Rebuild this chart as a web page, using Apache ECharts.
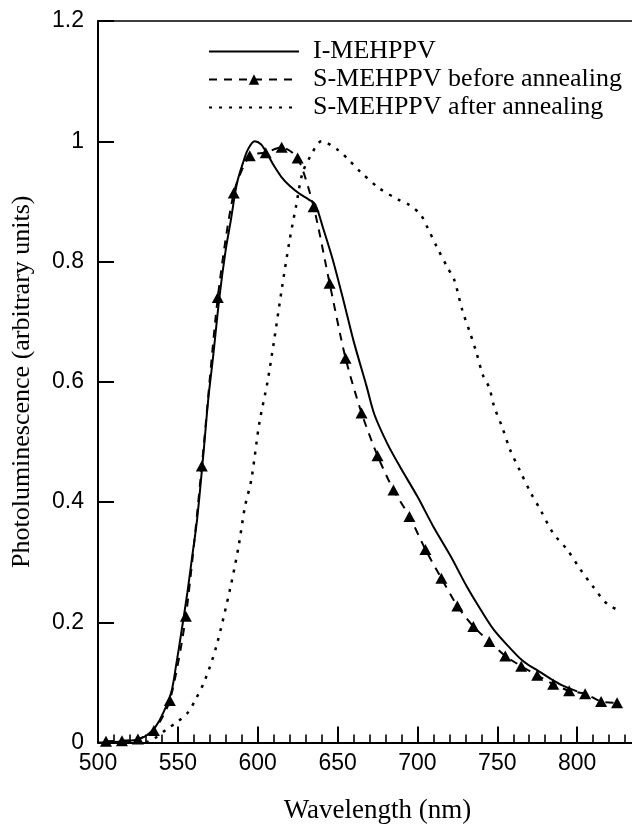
<!DOCTYPE html>
<html>
<head>
<meta charset="utf-8">
<script src="https://cdn.jsdelivr.net/npm/echarts@6/dist/echarts.min.js"></script>
<style>
html,body{margin:0;padding:0;background:#fff;}
#chart{width:632px;height:827px;}
</style>
</head>
<body>
<div id="chart"></div>
<script>
// I-MEHPPV (solid line)
const iWave = [500,510,520,526,531,536,541,546,549,552,556,559,562,566,569,572,576,580,583,587,591,594,598,602,606,610,615,620,626,632,636,641,647,654,660,668,673,681,689,700,710,721,731,741,748,758,765,770,774,781,790,800];
const iVal  = [0,0.001,0.003,0.006,0.013,0.026,0.05,0.085,0.13,0.18,0.25,0.31,0.37,0.48,0.57,0.64,0.74,0.82,0.866,0.93,0.966,0.987,1.0,0.995,0.979,0.96,0.94,0.926,0.913,0.903,0.895,0.855,0.803,0.732,0.668,0.594,0.546,0.498,0.459,0.409,0.359,0.309,0.259,0.215,0.187,0.157,0.138,0.128,0.122,0.11,0.096,0.085];

// S-MEHPPV before annealing (dashed line with triangles)
const bWave = [505,515,525,535,545,555,565,575,585,595,605,615,625,635,645,655,665,675,685,695,705,715,725,735,745,755,765,775,785,795,805,815,825];
const bVal  = [0.002,0.003,0.006,0.02,0.07,0.21,0.46,0.74,0.914,0.976,0.981,0.99,0.972,0.891,0.764,0.639,0.548,0.477,0.42,0.376,0.321,0.273,0.227,0.193,0.168,0.144,0.127,0.112,0.097,0.086,0.081,0.068,0.066];

// S-MEHPPV after annealing (dotted line)
const aWave = [530,535,543,550,556,561,567,574,583,588,592,596,601,606,610,615,620,624,628,633,640,650,657,664,676,688,695,702,706,712,719,723,728,733,737,741,745,748,753,758,764,771,777,785,794,802,810,819,827];
const aVal  = [0,0.006,0.022,0.035,0.049,0.071,0.104,0.159,0.259,0.326,0.392,0.437,0.531,0.598,0.664,0.753,0.836,0.892,0.947,0.975,1.0,0.986,0.969,0.95,0.922,0.903,0.894,0.878,0.858,0.825,0.789,0.77,0.72,0.681,0.648,0.611,0.59,0.559,0.525,0.487,0.453,0.415,0.387,0.348,0.32,0.288,0.259,0.23,0.219];

// Axis tick labels
const xTicks = [500,550,600,650,700,750,800];
const yTicks = [0,0.2,0.4,0.6,0.8,1,1.2];

const seriesNames = ['I-MEHPPV','S-MEHPPV before annealing','S-MEHPPV after annealing'];

const zip = (xs, ys) => xs.map((x, i) => [x, ys[i]]);

const chart = echarts.init(document.getElementById('chart'), null, {renderer:'canvas'});
const serif = '"Liberation Serif","Times New Roman",serif';
const sans = '"Liberation Sans",Arial,sans-serif';
const hiddenSym = {opacity:0, color:'rgba(0,0,0,0)', borderWidth:0};

chart.setOption({
  animation:false,
  backgroundColor:'#fff',
  grid:{left:98, top:21, right:-25, bottom:84.5, containLabel:false, outerBoundsMode:'none', show:false},
  legend:{
    orient:'vertical', left:203, top:33, itemWidth:90, itemHeight:13, itemGap:1,
    textStyle:{fontFamily:serif, fontSize:26, color:'#000', lineHeight:27, padding:[0,0,0,9]},
    data:[
      {name:seriesNames[0], itemStyle:hiddenSym},
      {name:seriesNames[1]},
      {name:seriesNames[2], itemStyle:hiddenSym}
    ]
  },
  xAxis:[{
    type:'value', min:500, max:850, interval:50, position:'bottom',
    name:'Wavelength (nm)', nameLocation:'middle', nameGap:55,
    nameTextStyle:{fontFamily:serif, fontSize:27, color:'#000'},
    axisLine:{show:true, onZero:false, lineStyle:{color:'#000', width:2}},
    axisTick:{show:true, inside:true, length:16, lineStyle:{color:'#000', width:2}},
    minorTick:{show:true, splitNumber:5, length:8, lineStyle:{color:'#000', width:1.6}},
    splitLine:{show:false},
    axisLabel:{fontFamily:sans, fontSize:23, color:'#000', margin:10,
      formatter:v => xTicks.indexOf(v) >= 0 ? String(v) : ''}
  },{
    type:'value', min:500, max:850, position:'top',
    axisLine:{show:true, onZero:false, lineStyle:{color:'#000', width:1.5}},
    axisTick:{show:false}, axisLabel:{show:false}, splitLine:{show:false}
  }],
  yAxis:{
    type:'value', min:0, max:1.2, interval:0.2,
    name:'Photoluminescence (arbitrary units)', nameLocation:'middle', nameGap:63,
    nameTextStyle:{fontFamily:serif, fontSize:26, color:'#000'},
    axisLine:{show:true, onZero:false, lineStyle:{color:'#000', width:2}},
    axisTick:{show:true, inside:true, length:16, lineStyle:{color:'#000', width:2}},
    splitLine:{show:false},
    axisLabel:{fontFamily:sans, fontSize:23, color:'#000', margin:14,
      formatter:v => { const t = yTicks.find(k => Math.abs(k - v) < 1e-9); return t === undefined ? '' : String(t); }}
  },
  series:[
    {name:seriesNames[0], type:'line', xAxisIndex:0, data:zip(iWave,iVal), smooth:0.3, symbol:'none',
     lineStyle:{color:'#000', width:2, type:'solid'}, itemStyle:{color:'#000'}, z:3},
    {name:seriesNames[1], type:'line', xAxisIndex:0, data:zip(bWave,bVal), smooth:0.25, symbol:'triangle', symbolSize:[12,11], showAllSymbol:true,
     lineStyle:{color:'#000', width:2, type:[8,7]}, itemStyle:{color:'#000'}, z:4},
    {name:seriesNames[2], type:'line', xAxisIndex:0, data:zip(aWave,aVal), smooth:0.3, symbol:'none',
     lineStyle:{color:'#000', width:2.5, type:[3,7]}, itemStyle:{color:'#000'}, z:2}
  ]
});
</script>
</body>
</html>
